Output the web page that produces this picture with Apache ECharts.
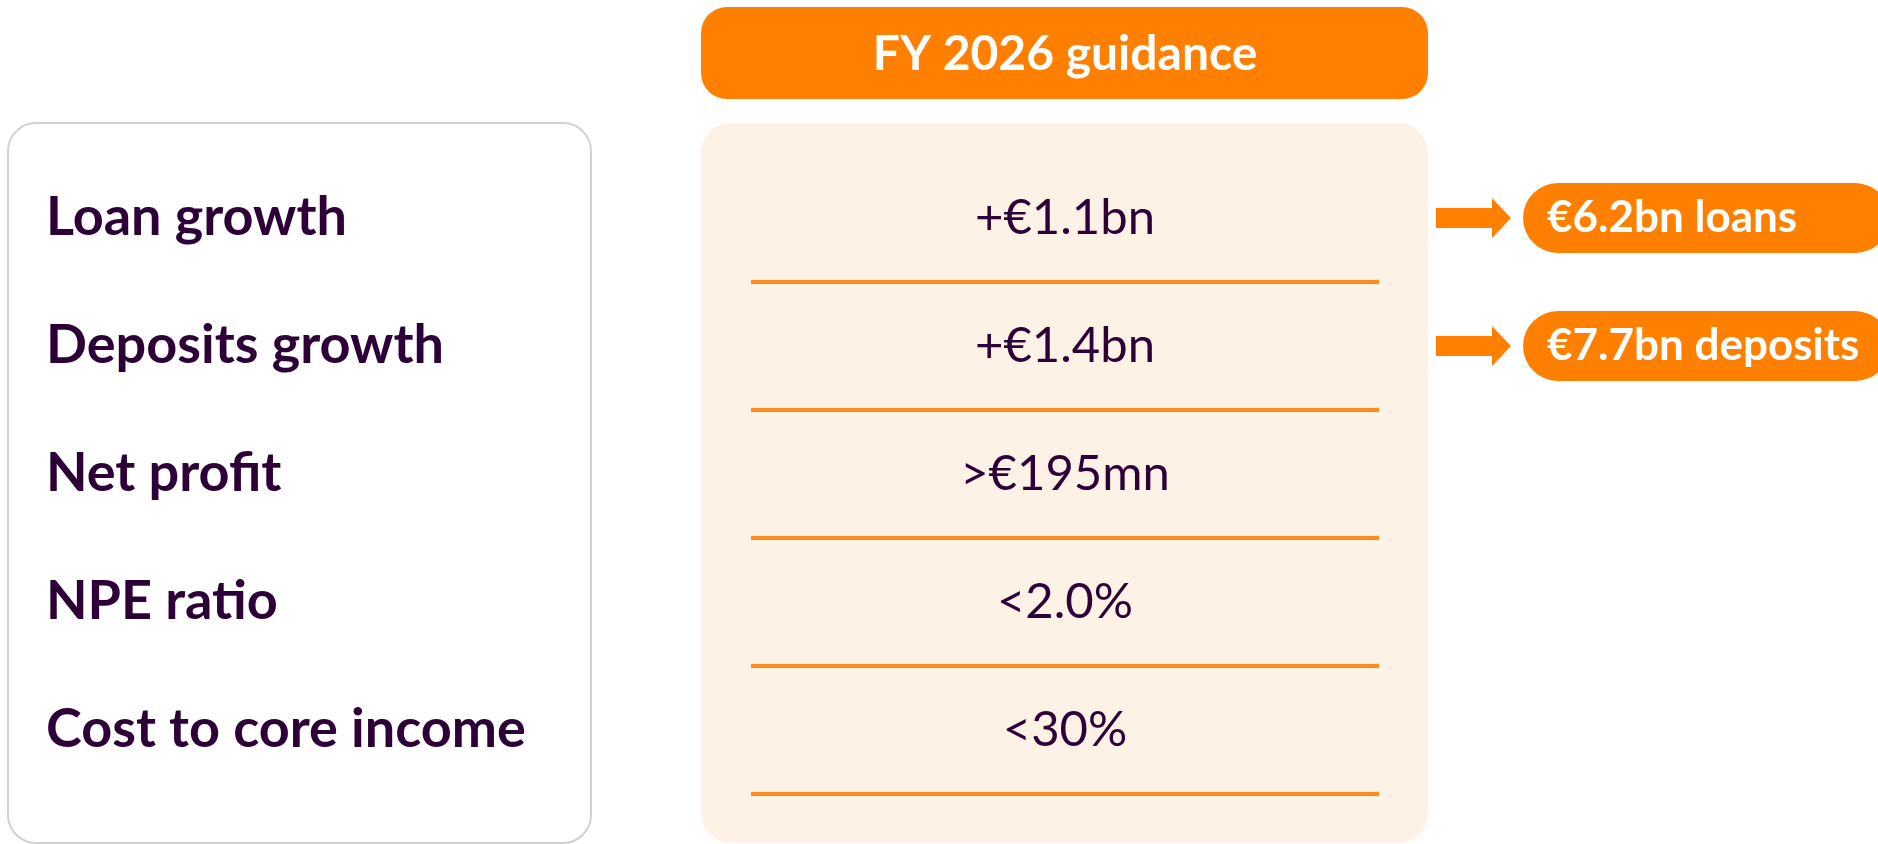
<!DOCTYPE html>
<html>
<head>
<meta charset="utf-8">
<title>FY 2026 guidance</title>
<script src="https://cdn.jsdelivr.net/npm/echarts@6/dist/echarts.min.js"></script>
<style>
  html, body { margin: 0; padding: 0; background: #fff; }
  #main { width: 1878px; height: 844px; }
</style>
</head>
<body>
<div id="main"></div>
<script>
// data
var headerText = 'FY 2026 guidance';
var rowLabels = ['Loan growth', 'Deposits growth', 'Net profit', 'NPE ratio', 'Cost to core income'];
var guidanceValues = ['+€1.1bn', '+€1.4bn', '>€195mn', '<2.0%', '<30%'];
var calloutRows = ['Loan growth', 'Deposits growth'];
var calloutTexts = ['€6.2bn loans', '€7.7bn deposits'];

var purple = '#2E0038';
var orange = '#FF7F00';
var lineOrange = '#FF8A1C';
var font = 'Lato';

var myChart = echarts.init(document.getElementById('main'));

// arrow shape, shaft + head
var arrowPath = 'path://M0,10 L56,10 L56,0 L75,20 L56,40 L56,30 L0,30 Z';

var option = {
    animation: false,
    graphic: [
        { type: 'rect', z: -10, shape: { x: 8, y: 123, width: 583, height: 720, r: 28 },
          style: { fill: '#fff', stroke: '#D2D2D2', lineWidth: 2 } },
        { type: 'rect', z: -10, shape: { x: 701, y: 123, width: 727, height: 720, r: 30 },
          style: { fill: '#FEF1E6' } },
        { type: 'rect', z: -10, shape: { x: 701, y: 7, width: 727, height: 92, r: 26 },
          style: { fill: orange } },
        { type: 'text', z: 10, x: 1065, y: 55,
          style: { text: headerText, fill: '#fff', font: 'bold 48px ' + font, align: 'center', verticalAlign: 'middle' } }
    ],
    grid: [
        { left: 751, right: 499, top: 154, bottom: 50 },
        { left: 1436, right: 0, top: 154, bottom: 50 }
    ],
    xAxis: [
        { gridIndex: 0, type: 'value', min: 0, max: 1, show: false },
        { gridIndex: 1, type: 'value', min: 0, max: 1, show: false }
    ],
    yAxis: [
        {
            gridIndex: 0,
            type: 'category',
            inverse: true,
            data: rowLabels,
            z: 3,
            axisLine: { show: false },
            axisTick: { show: false },
            axisLabel: {
                align: 'left',
                margin: 705,
                color: purple,
                fontFamily: font,
                fontWeight: 'bold',
                fontSize: 54
            },
            splitLine: {
                show: true,
                interval: function (index) { return index !== 0; },
                lineStyle: { color: lineOrange, width: 4 }
            }
        },
        {
            gridIndex: 1,
            type: 'category',
            inverse: true,
            data: rowLabels,
            show: false
        }
    ],
    series: [
        {
            name: 'guidance',
            type: 'scatter',
            xAxisIndex: 0,
            yAxisIndex: 0,
            symbolSize: 0,
            itemStyle: { opacity: 1 },
            data: guidanceValues.map(function (v, i) { return [0.5, rowLabels[i]]; }),
            label: {
                show: true,
                position: 'inside',
                formatter: function (p) { return guidanceValues[p.dataIndex]; },
                color: purple,
                fontFamily: font,
                fontSize: 49
            }
        },
        {
            name: 'callout',
            type: 'scatter',
            xAxisIndex: 1,
            yAxisIndex: 1,
            clip: false,
            symbol: arrowPath,
            symbolSize: [75, 40],
            symbolOffset: [37.5, 0],
            itemStyle: { color: orange, opacity: 1 },
            data: calloutRows.map(function (r) { return [0, r]; }),
            label: {
                show: true,
                position: 'right',
                distance: 12,
                formatter: function (p) { return calloutTexts[p.dataIndex]; },
                color: '#fff',
                fontFamily: font,
                fontWeight: 'bold',
                fontSize: 44,
                backgroundColor: orange,
                borderRadius: 35,
                width: 343,
                height: 70,
                lineHeight: 70,
                padding: [0, 0, 0, 24]
            }
        }
    ]
};
myChart.setOption(option);
</script>
</body>
</html>
